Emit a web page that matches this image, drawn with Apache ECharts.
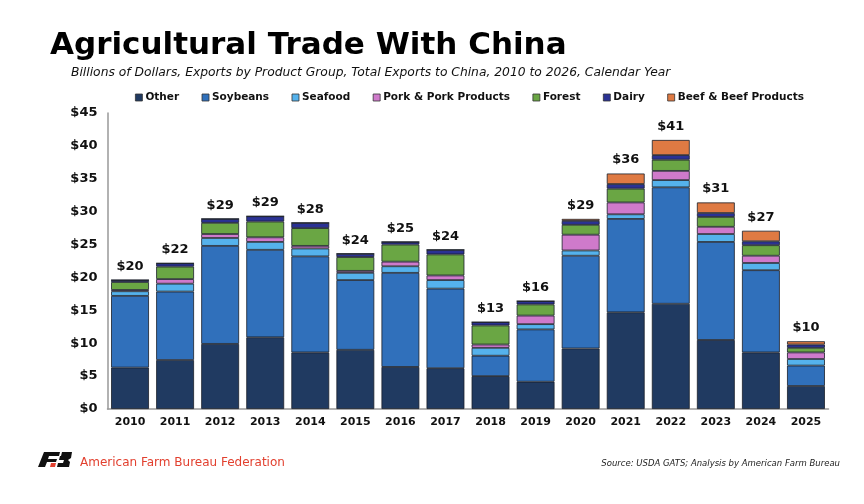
<!DOCTYPE html>
<html>
<head>
<meta charset="utf-8">
<script src="https://cdn.jsdelivr.net/npm/echarts@6/dist/echarts.min.js"></script>
<style>
  html, body { margin: 0; padding: 0; background: #fff; }
  #main { width: 864px; height: 504px; }
</style>
</head>
<body>
<div id="main"></div>
<script>
var years = ["2010", "2011", "2012", "2013", "2014", "2015", "2016", "2017",
  "2018", "2019", "2020", "2021", "2022", "2023", "2024", "2025"];

// billions of dollars
var other    = [6.3, 7.45, 9.9, 10.9, 8.6, 9.0, 6.4, 6.2, 5.0, 4.15, 9.2, 14.7, 16.0, 10.5, 8.6, 3.5];
var soybeans = [10.9, 10.4, 14.9, 13.3, 14.6, 10.6, 14.3, 12.1, 3.1, 7.95, 14.1, 14.2, 17.7, 14.9, 12.5, 3.1];
var seafood  = [0.7, 1.2, 1.2, 1.2, 1.2, 1.1, 1.0, 1.3, 1.2, 0.8, 0.8, 0.7, 1.1, 1.2, 1.1, 1.0];
var pork     = [0.2, 0.7, 0.6, 0.7, 0.4, 0.3, 0.7, 0.7, 0.5, 1.3, 2.4, 1.8, 1.4, 1.1, 1.1, 1.0];
var forest   = [1.2, 1.9, 1.7, 2.4, 2.7, 2.1, 2.6, 3.2, 2.9, 1.7, 1.5, 2.1, 1.7, 1.5, 1.6, 0.7];
var dairy    = [0.3, 0.5, 0.6, 0.8, 0.8, 0.5, 0.4, 0.7, 0.5, 0.5, 0.6, 0.7, 0.7, 0.6, 0.6, 0.5];
var beef     = [0, 0, 0, 0, 0, 0, 0, 0, 0, 0, 0.3, 1.6, 2.3, 1.6, 1.6, 0.5];

var groups = [
  { name: "Other", data: other, color: "#203a61" },
  { name: "Soybeans", data: soybeans, color: "#3070bb" },
  { name: "Seafood", data: seafood, color: "#55b2ec" },
  { name: "Pork & Pork Products", data: pork, color: "#cf7acb" },
  { name: "Forest", data: forest, color: "#6aa644" },
  { name: "Dairy", data: dairy, color: "#2b3294" },
  { name: "Beef & Beef Products", data: beef, color: "#df7a43" }
];

var totals = [];
for (var i = 0; i < years.length; i++) {
  var t = 0;
  for (var g = 0; g < groups.length; g++) t += groups[g].data[i];
  totals.push(t);
}

var font = "DejaVu Sans";
var series = groups.map(function (s) {
  return {
    name: s.name,
    type: "bar",
    stack: "total",
    barCategoryGap: "16%",
    data: s.data,
    itemStyle: { color: s.color, borderColor: "#1b1f2a", borderWidth: 0.8 }
  };
});
// zero-height bar on top of the stack, only there to carry the total label
series.push({
  name: "total",
  type: "bar",
  stack: "total",
  data: totals.map(function () { return 0; }),
  itemStyle: { color: "transparent" },
  silent: true,
  label: {
    show: true,
    position: "top",
    distance: 7,
    fontFamily: font,
    fontWeight: "bold",
    fontSize: 13,
    color: "#111",
    formatter: function (p) { return "$" + Math.round(totals[p.dataIndex]); }
  }
});

var chart = echarts.init(document.getElementById("main"));
var option = {
  animation: false,
  textStyle: { fontFamily: font },
  title: [
    {
      text: "Agricultural Trade With China",
      left: 45, top: 25,
      textStyle: { fontFamily: font, fontWeight: "bold", fontSize: 31, color: "#000" }
    },
    {
      text: "Billions of Dollars, Exports by Product Group, Total Exports to China, 2010 to 2026, Calendar Year",
      left: 66, top: 62,
      textStyle: { fontFamily: font, fontStyle: "italic", fontWeight: "normal", fontSize: 12.3, color: "#111" }
    }
  ],
  legend: {
    data: groups.map(function (s) { return s.name; }),
    top: 87,
    left: 130,
    itemWidth: 7,
    itemHeight: 7,
    itemGap: 22.5,
    icon: "rect",
    itemStyle: { borderColor: "#333", borderWidth: 0.8 },
    textStyle: { fontFamily: font, fontWeight: "bold", fontSize: 10.5, color: "#111", padding: [0, 0, 0, -2] }
  },
  grid: { left: 107.5, right: 35.5, top: 113, bottom: 95 },
  xAxis: {
    type: "category",
    data: years,
    axisLine: { lineStyle: { color: "#999", width: 1.5 } },
    axisTick: { show: false },
    axisLabel: { fontFamily: font, fontWeight: "bold", fontSize: 11, color: "#111", margin: 8 }
  },
  yAxis: {
    type: "value",
    min: 0, max: 45, interval: 5,
    splitLine: { show: false },
    axisLine: { show: true, lineStyle: { color: "#999", width: 1.5 } },
    axisTick: { show: false },
    axisLabel: {
      fontFamily: font, fontWeight: "bold", fontSize: 13, color: "#111", margin: 10,
      formatter: function (v) { return "$" + v; }
    }
  },
  series: series,
  graphic: [
    {
      type: "polygon",
      shape: { points: [[44, 452], [60, 452], [59, 456], [49, 456], [48, 459], [57, 459], [56, 462], [47, 462], [45, 467], [38, 467]] },
      style: { fill: "#111" }
    },
    {
      type: "polygon",
      shape: { points: [[51, 463], [56, 463], [55, 467], [50, 467]] },
      style: { fill: "#e2402f" }
    },
    {
      type: "polygon",
      shape: { points: [[62, 452], [72, 452], [71, 458], [68, 460], [70, 462], [69, 467], [57, 467], [58, 463], [63, 463], [64, 460], [59, 460], [60, 456], [61, 456]] },
      style: { fill: "#111" }
    },
    {
      type: "text",
      left: 80, top: 457,
      style: { text: "American Farm Bureau Federation", font: "12px " + font, fill: "#e2402f" }
    },
    {
      type: "text",
      right: 24, top: 459,
      style: { text: "Source: USDA GATS; Analysis by American Farm Bureau", font: "italic 8.5px " + font, fill: "#222" }
    }
  ]
};
chart.setOption(option);
</script>
</body>
</html>
